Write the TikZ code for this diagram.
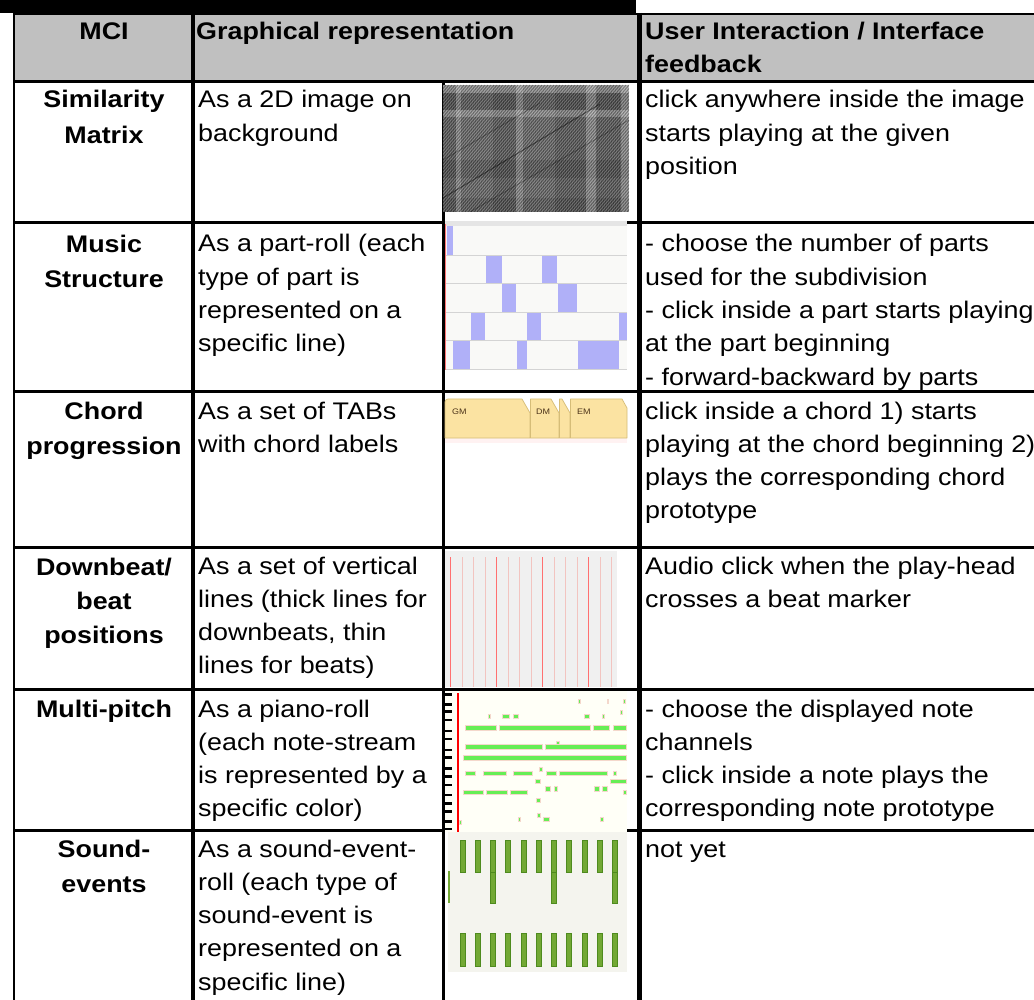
\documentclass[tikz,border=0pt]{standalone}
\usepackage{fontspec}
\setmainfont{Liberation Sans}[FakeStretch=1.12]
\definecolor{hdrgray}{HTML}{C0C0C0}
\definecolor{partblue}{HTML}{B0B0F8}
\definecolor{partbg}{HTML}{F9F9F7}
\definecolor{tabfill}{HTML}{FBE3A2}
\definecolor{tabedge}{HTML}{D6BD78}
\definecolor{beatbg}{HTML}{F0F0F0}
\definecolor{downred}{HTML}{FF7070}
\definecolor{beatred}{HTML}{F2C4C0}
\definecolor{notegreen}{HTML}{66EE55}
\definecolor{notehalo}{HTML}{F4D8CC}
\definecolor{sevgreen}{HTML}{72A834}
\definecolor{sevedge}{HTML}{4E8A1E}
\definecolor{sevbg}{HTML}{F4F4EE}

% one node per printed line: prefix, style, x, first baseline, line step, lines
\newcommand{\celltext}[6]{%
  \foreach \cellline [count=\cellidx] in {#6} {%
    \node[#2] (#1-\cellidx) at (#3,{#4+#5*(\cellidx-1)}) {\cellline};}}

\begin{document}
\begin{tikzpicture}[x=1pt,y=-1pt,
  body/.style={anchor=base west, inner sep=0pt, font=\fontsize{24}{33}\selectfont},
  head/.style={anchor=base west, inner sep=0pt, font=\bfseries\fontsize{24}{33}\selectfont},
  mci/.style={anchor=base, inner sep=0pt, font=\bfseries\fontsize{24}{33}\selectfont},
  hrule/.style={line width=3pt},
  note/.style={fill=notegreen, draw=notehalo, line width=0.35pt},
  sev/.style={fill=sevgreen, draw=sevedge, line width=0.6pt},
  tab/.style={fill=tabfill, draw=tabedge, line width=0.7pt, line join=round},
  taglabel/.style={anchor=base west, inner sep=0pt, text=black!60!brown, font=\fontsize{8}{8}\selectfont}
]
\useasboundingbox (0,0) rectangle (1034,1000);
\clip (0,0) rectangle (1034,1000);
\fill[white] (0,0) rectangle (1034,1000);

% header band
\fill[hdrgray] (13,13) rectangle (1034,82);

% row rules
\foreach \ry in {82,222.5,392,547.5,689,830}
  \draw[hrule] (13,\ry) -- (1034,\ry);
\draw[line width=2pt] (13,14) -- (1034,14);
% split of the representation column into text and picture
\draw[line width=2.5pt] (443.5,82) -- (443.5,1000);

% ---------- similarity matrix ----------
\begin{scope}
  \clip (443,85) rectangle (629,212);
  \fill[black!58] (443,85) rectangle (629,212);
  % darker blocks
  \foreach \xa/\xb in {443/456,493/516,555/586,596/621}
    \fill[black, opacity=.15] (\xa,85) rectangle (\xb,212);
  \foreach \ya/\yb in {93/110,160/178,198/212}
    \fill[black, opacity=.15] (443,\ya) rectangle (629,\yb);
  % lighter bands
  \foreach \xa/\xb in {456/461,516/523,586/596,621/629}
    \fill[white, opacity=.22] (\xa,85) rectangle (\xb,212);
  \foreach \ya/\yb in {85/93,110/117}
    \fill[white, opacity=.25] (443,\ya) rectangle (629,\yb);
  % diagonal texture
  \foreach \s in {-110,-107,...,190}
    \draw[black, opacity=.3, line width=0.9pt] ({443+\s},212) -- ++(107,-127);
  \foreach \s in {-108.5,-105.5,...,190}
    \draw[white, opacity=.2, line width=0.6pt] ({443+\s},212) -- ++(107,-127);
  % fine vertical grain
  \foreach \s in {444,446,...,628}
    \draw[white, opacity=.07, line width=0.5pt] (\s,85) -- (\s,212);
  \draw[black, opacity=.45, line width=1pt] (443,198) -- (600,104);
  \draw[black, opacity=.3, line width=0.8pt] (470,212) -- (629,120);
  \draw[black, opacity=.3, line width=0.8pt] (443,160) -- (540,103);
\end{scope}

% ---------- music structure part-roll ----------
\fill[partbg] (445,221.5) rectangle (627,370);
\fill[black!10] (445,221.5) rectangle (627,226.5);
\foreach \ya/\yb/\xa/\xb in {
  226.5/255/447/453,
  255/283/486/502, 255/283/542/557,
  283/312/502/516, 283/312/558/577,
  312/340/471/485, 312/340/527/541, 312/340/619/627,
  340/369/453/470, 340/369/517/527, 340/369/578/619}
  \fill[partblue] (\xa,\ya) rectangle (\xb,\yb);
\foreach \ry in {255,283,312,340,369}
  \draw[black!17, line width=0.8pt] (445,\ry) -- (627,\ry);
\draw[red!55, line width=0.8pt] (445.5,224) -- (445.5,370);

% ---------- chord progression tabs ----------
\fill[red!5] (445,437) rectangle (627,443);
\draw[tab] (445,438) -- (445,402) to[out=90,in=180] (448,399) -- (522,399) -- (530,413) -- (530,438) -- cycle;
\draw[tab] (530.5,438) -- (530.5,399) -- (551,399) -- (559,413) -- (559,438) -- cycle;
\draw[tab] (559.5,438) -- (559.5,399) -- (562,399) -- (570,413) -- (570,438) -- cycle;
\draw[tab] (570.5,438) -- (570.5,399) -- (622,399) -- (627,408) -- (627,438) -- cycle;
\node[taglabel] (chordGM) at (452,414) {GM};
\node[taglabel] (chordDM) at (536,414) {DM};
\node[taglabel] (chordEM) at (577,414) {EM};

% ---------- downbeat / beat grid ----------
\fill[beatbg] (445,551) rectangle (617,687);
\foreach \k in {1,2,3,5,6,7,9,10,11,13,14}
  \draw[beatred, line width=1.1pt] ({450.7+11.5*\k},557) -- ({450.7+11.5*\k},687);
\foreach \k in {0,4,8,12}
  \draw[downred, line width=1.3pt] ({450.7+11.5*\k},557) -- ({450.7+11.5*\k},687);

% ---------- multi-pitch piano-roll ----------
\fill[white!97!yellow] (444.8,690.5) rectangle (627,832);
\foreach \ty in {694.3,704.3,711.7,720,731,739,750,757.7,768.3,776.7,785,795,803.3,811.7,821.7,829}
  \fill[black] (445,{\ty-1.3}) rectangle (451.5,{\ty+1.3});
\draw[red, line width=1.2pt] (458,693) -- (458,832);
\foreach \a/\b/\y in {
  577.7/579.7/701, 606.7/608.3/701, 623.3/625/701, 620/622/712,
  488/490/716, 501.7/509/716, 512.7/517.7/716, 584/588.7/716, 601.7/604/716,
  465/495.7/727.7, 499/590/727.7, 593.3/609/727.7, 613/626/727.7,
  556/559.3/743.3, 465/541.7/746.7, 545/626/746.7, 463.3/626/757.7,
  539.3/541.7/769.3, 465/475/773.3, 482.7/506/773.3, 513.3/532.3/773.3,
  545.7/555.7/773.3, 558.7/607/773.3, 612.7/616/773.3,
  535.3/540/781, 610.3/626/781,
  545/550/788.7, 553.7/556.7/788.7, 594.3/599/788.7, 601.7/606.7/788.7,
  462.7/482.7/792.3, 485.7/506.7/792.3, 510/526.7/792.3, 623.3/625.7/792.3,
  536/540/800, 537.3/539.7/815, 518/520/819, 543.3/548.7/819, 600/603.3/819,
  459/460.7/822.3}
  \draw[note] (\a,{\y-2.2}) rectangle (\b,{\y+2.2});

% ---------- sound-event roll ----------
\fill[sevbg] (448,831.5) rectangle (627,972);
\foreach \k in {0,...,10} {
  \draw[sev] ({460+15.25*\k},840) rectangle ({465+15.25*\k},872);
  \draw[sev] ({460+15.25*\k},933) rectangle ({465+15.25*\k},966);
}
\foreach \k in {2,6,10}
  \draw[sev] ({460+15.25*\k},872) rectangle ({465+15.25*\k},903);
\fill[sevgreen] (448,871) rectangle (450,903);

% column rules and top band
\draw[line width=2.5pt] (13.8,13) -- (13.8,1000);
\draw[line width=4pt] (193,13) -- (193,1000);
\draw[line width=4.5pt] (639.5,13) -- (639.5,1000);
\fill[black] (0,0) rectangle (636,13);

% ---------- header ----------
\node[mci] (h-mci) at (104,40) {MCI};
\node[head] (h-graph) at (196,40) {Graphical representation};
\celltext{h-ui}{head}{645}{40}{33}{{User Interaction / Interface},{feedback}}

% ---------- MCI column ----------
\celltext{m1}{mci}{104}{108}{36}{{Similarity},{Matrix}}
\celltext{m2}{mci}{104}{253}{35}{{Music},{Structure}}
\celltext{m3}{mci}{104}{419}{35}{{Chord},{progression}}
\celltext{m4}{mci}{104}{575}{34}{{Downbeat/},{beat},{positions}}
\celltext{m5}{mci}{104}{717}{35}{{Multi-pitch}}
\celltext{m6}{mci}{104}{857}{35}{{Sound-},{events}}

% ---------- representation column ----------
\celltext{g1}{body}{198}{108}{33.3}{{As a 2D image on},{background}}
\celltext{g2}{body}{198}{252}{33.3}{{As a part-roll (each},{type of part is},{represented on a},{specific line)}}
\celltext{g3}{body}{198}{419}{33.3}{{As a set of TABs},{with chord labels}}
\celltext{g4}{body}{198}{574}{33.3}{{As a set of vertical},{lines (thick lines for},{downbeats, thin},{lines for beats)}}
\celltext{g5}{body}{198}{717}{33.3}{{As a piano-roll},{(each note-stream},{is represented by a},{specific color)}}
\celltext{g6}{body}{198}{857}{33.3}{{As a sound-event-},{roll (each type of},{sound-event is},{represented on a},{specific line)}}

% ---------- interaction column ----------
\celltext{u1}{body}{645}{108}{33.3}{{click anywhere inside the image},{starts playing at the given},{position}}
\celltext{u2}{body}{645}{252}{33.3}{{- choose the number of parts},{used for the subdivision},{- click inside a part starts playing},{at the part beginning},{- forward-backward by parts}}
\celltext{u3}{body}{645}{419}{33.3}{{click inside a chord 1) starts},{playing at the chord beginning 2)},{plays the corresponding chord},{prototype}}
\celltext{u4}{body}{645}{574}{33.3}{{Audio click when the play-head},{crosses a beat marker}}
\celltext{u5}{body}{645}{717}{33.3}{{- choose the displayed note},{channels},{- click inside a note plays the},{corresponding note prototype}}
\celltext{u6}{body}{645}{857}{33.3}{{not yet}}
\end{tikzpicture}
\end{document}
